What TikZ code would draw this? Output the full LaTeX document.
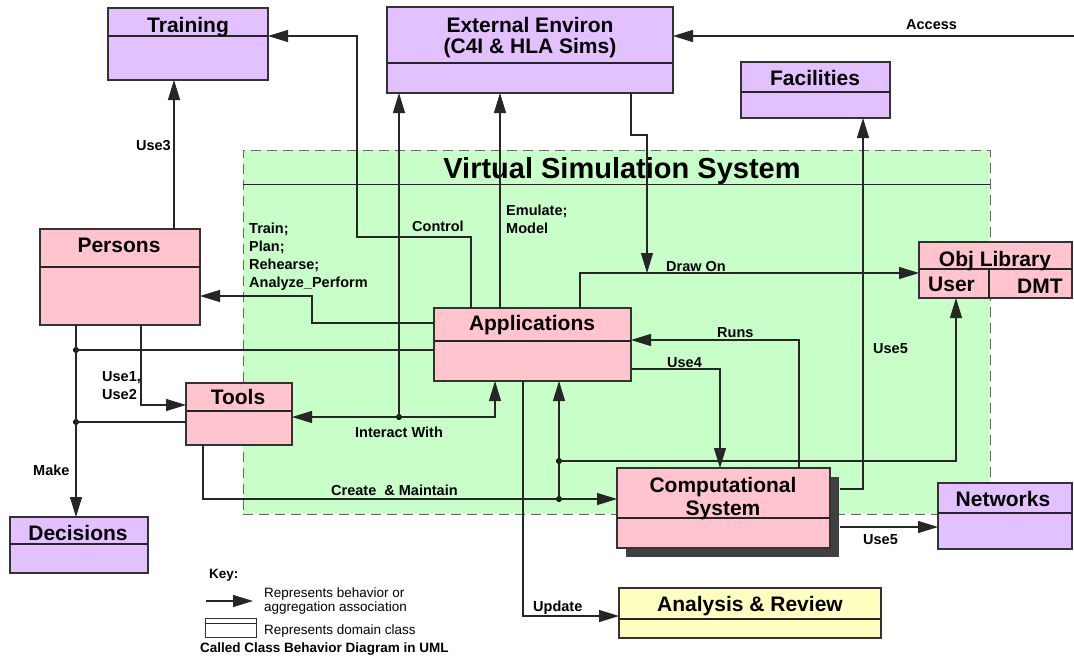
\documentclass[tikz,border=0pt]{standalone}
\usepackage{fontspec}
\setmainfont{Liberation Sans}
\usetikzlibrary{arrows.meta,shadows}

\definecolor{classpurple}{RGB}{227,192,255}
\definecolor{classpink}{RGB}{255,196,206}
\definecolor{vssgreen}{RGB}{200,255,200}
\definecolor{classyellow}{RGB}{255,255,192}
\definecolor{boxline}{RGB}{51,51,51}
\definecolor{shadowgray}{RGB}{64,64,64}

\begin{document}
\begin{tikzpicture}[x=1pt,y=-1pt,
	cls/.style={draw=boxline, line width=1.2pt, inner sep=0pt, outer sep=0pt},
	title/.style={font=\fontsize{21}{21}\selectfont\bfseries, anchor=base, align=center, inner sep=0pt},
	lbl/.style={font=\fontsize{14.5}{18}\selectfont\bfseries, anchor=base west, inner sep=0pt, align=left},
	keytxt/.style={font=\fontsize{13.5}{11.5}\selectfont, anchor=base west, inner sep=0pt, align=left},
	assoc/.style={draw=black!85, line width=1.2pt, -{Triangle[length=20pt,width=12pt]}},
	plain/.style={draw=black!85, line width=1.2pt},
	dot/.style={circle, fill=black, inner sep=0pt, minimum size=6pt}]

\fill[white] (0,0) rectangle (1074,657);
\useasboundingbox (0,0) rectangle (1074,657);

% system boundary
\node[cls, draw=black!60, dash pattern=on 10pt off 6pt, line width=1pt, fill=vssgreen,
	minimum width=747pt, minimum height=364pt] (vss) at (616.5,332) {};
\draw[plain, line width=1pt] ([yshift=-34pt]vss.north west) -- ([yshift=-34pt]vss.north east);
\node[font=\fontsize{29}{32}\selectfont\bfseries, anchor=base, inner sep=0pt] (vsstitle) at (622,178) {Virtual Simulation System};

% domain classes
\node[cls, fill=classpurple, minimum width=160pt, minimum height=72pt] (train) at (188,44) {};
	\draw[plain] ([yshift=-28pt]train.north west) -- ([yshift=-28pt]train.north east);
	\node[title] (traint) at (188,32) {Training};
\node[cls, fill=classpurple, minimum width=286pt, minimum height=86pt] (ext) at (530,50) {};
	\draw[plain] ([yshift=-56pt]ext.north west) -- ([yshift=-56pt]ext.north east);
	\node[title] (extt) at (530,53) {External Environ\\(C4I \& HLA Sims)};
\node[cls, fill=classpurple, minimum width=149pt, minimum height=56pt] (fac) at (815.5,90) {};
	\draw[plain] ([yshift=-30pt]fac.north west) -- ([yshift=-30pt]fac.north east);
	\node[title] (fact) at (815,85) {Facilities};
\node[cls, fill=classpink, minimum width=160pt, minimum height=96pt] (pers) at (120,277) {};
	\draw[plain] ([yshift=-38pt]pers.north west) -- ([yshift=-38pt]pers.north east);
	\node[title] (perst) at (119,252) {Persons};
\node[cls, fill=classpink, minimum width=106pt, minimum height=62pt] (tools) at (239,414) {};
	\draw[plain] ([yshift=-28pt]tools.north west) -- ([yshift=-28pt]tools.north east);
	\node[title] (toolst) at (238,404) {Tools};
\node[cls, fill=classpurple, minimum width=138pt, minimum height=56pt] (dec) at (79,545) {};
	\draw[plain] ([yshift=-27pt]dec.north west) -- ([yshift=-27pt]dec.north east);
	\node[title] (dect) at (78,540) {Decisions};
\node[cls, fill=classpink, minimum width=197pt, minimum height=73pt] (apps) at (532.5,344.5) {};
	\draw[plain] ([yshift=-33pt]apps.north west) -- ([yshift=-33pt]apps.north east);
	\node[title] (appst) at (532,330) {Applications};
\node[cls, fill=classpink, minimum width=153pt, minimum height=56pt] (obj) at (995.5,270) {};
	\draw[plain] ([yshift=-27pt]obj.north west) -- ([yshift=-27pt]obj.north east);
	\draw[plain] ([xshift=70pt,yshift=-27pt]obj.north west) -- ([xshift=70pt]obj.south west);
	\node[title] (objt) at (995,266) {Obj Library};
	\node[title, anchor=base west] (objuser) at (928,291) {User};
	\node[title, anchor=base west] (objdmt) at (1017,293) {DMT};
\node[cls, fill=classpink, minimum width=213pt, minimum height=80pt,
	drop shadow={shadow xshift=9pt, shadow yshift=-9pt, fill=shadowgray, opacity=1}] (comp) at (723.5,508) {};
	\draw[plain] ([yshift=-50pt]comp.north west) -- ([yshift=-50pt]comp.north east);
	\node[title, font=\fontsize{21}{23}\selectfont\bfseries] (compt) at (723,515) {Computational\\System};
\node[cls, fill=classpurple, minimum width=134pt, minimum height=66pt] (net) at (1005,516) {};
	\draw[plain] ([yshift=-30pt]net.north west) -- ([yshift=-30pt]net.north east);
	\node[title] (nett) at (1003,506) {Networks};
\node[cls, fill=classyellow, minimum width=262pt, minimum height=50pt] (ana) at (750,613) {};
	\draw[plain] ([yshift=-31pt]ana.north west) -- ([yshift=-31pt]ana.north east);
	\node[title] (anat) at (750,611) {Analysis \& Review};

% junctions
\coordinate (acc) at (1074,36);
\coordinate (don) at (647,273);
\node[dot] (iw) at (399,417) {};
\node[dot] (mk1) at (76,350) {};
\node[dot] (mk2) at (76,422) {};
\node[dot] (cm1) at (559,499) {};
\node[dot] (cm2) at (559,461) {};

% associations
\draw[assoc] (acc) -- ([yshift=14pt]ext.east);
\draw[assoc] ([xshift=37pt]apps.north west) |- (357,237) |- ([yshift=8pt]train.east);
\draw[assoc] ([xshift=66pt]apps.north west) -- ([xshift=113pt]ext.south west);
\draw[assoc] ([xshift=244pt]ext.south west) |- (647,135) -- (don);
\draw[assoc] ([xshift=146pt]apps.north west) |- ([yshift=-3pt]obj.west);
\draw[assoc] ([yshift=21.5pt]apps.west) -| (312,296) -- ([yshift=-19pt]pers.east);
\draw[assoc] (iw.center) -- ([yshift=-3pt]tools.east);
\draw[assoc] (iw.center) -| ([xshift=61pt]apps.south west);
\draw[assoc] (iw.center) -- ([xshift=12pt]ext.south west);
\draw[assoc] ([xshift=134pt]pers.north west) -- ([xshift=66pt]train.south west);
\draw[assoc] ([xshift=101pt]pers.south west) |- ([yshift=9pt]tools.west);
\draw[assoc] ([xshift=36pt]pers.south west) -- ([xshift=66pt]dec.north west);
\draw[plain] ([yshift=-5.5pt]apps.west) -- (mk1.center);
\draw[plain] ([yshift=-8pt]tools.west) -- (mk2.center);
\draw[assoc] ([xshift=17pt]tools.south west) |- ([yshift=9pt]comp.west);
\draw[plain] (cm1.center) -- (cm2.center);
\draw[assoc] (cm2.center) -- ([xshift=125pt]apps.south west);
\draw[assoc] (cm2.center) -| ([xshift=37pt]obj.south west);
\draw[assoc] ([yshift=-24.5pt]apps.east) -| ([xshift=103pt]comp.north west);
\draw[assoc] ([xshift=182pt]comp.north west) |- ([yshift=4.5pt]apps.east);
\draw[assoc] ([xshift=10pt,yshift=19pt]comp.east) -| ([xshift=122pt]fac.south west);
\draw[assoc] ([xshift=10pt,yshift=-19pt]comp.east) -- ([yshift=-11pt]net.west);
\draw[assoc] ([xshift=89pt]apps.south west) |- ([yshift=-3pt]ana.west);

% association labels
\node[lbl] (laccess) at (906,29) {Access};
\node[lbl, anchor=base east] (luse3) at (171,150) {Use3};
\node[lbl] (lctrl) at (412,231) {Control};
\node[lbl] (lemul) at (506,233) {Emulate;\\Model};
\node[lbl] (ltrain) at (249,287) {Train;\\Plan;\\Rehearse;\\Analyze\_Perform};
\node[lbl] (ldraw) at (666,271) {Draw On};
\node[lbl] (lruns) at (717,337) {Runs};
\node[lbl] (luse4) at (667,367) {Use4};
\node[lbl] (luse5a) at (873,353) {Use5};
\node[lbl] (luse12) at (102,399) {Use1,\\Use2};
\node[lbl] (linter) at (355,437) {Interact With};
\node[lbl] (lcreate) at (331,495) {Create~ \& Maintain};
\node[lbl] (lmake) at (33,475) {Make};
\node[lbl] (luse5b) at (863,544) {Use5};
\node[lbl] (lupd) at (533,611) {Update};

% key
\node[lbl, font=\fontsize{13.5}{16}\selectfont\bfseries] (key) at (209,578) {Key:};
\coordinate (k1) at (206,601);
\coordinate (k2) at (253,601);
\draw[assoc] (k1) -- (k2);
\node[keytxt] (keyassoc) at (264,611) {Represents behavior or\\aggregation association};
\node[cls, line width=1pt, fill=white, minimum width=51pt, minimum height=19pt] (keycls) at (230.5,627.5) {};
\draw[plain, line width=1pt] ([yshift=-5pt]keycls.north west) -- ([yshift=-5pt]keycls.north east);
\node[keytxt] (keyclass) at (264,634) {Represents domain class};
\node[lbl, font=\fontsize{13.5}{16}\selectfont\bfseries] (keyname) at (200,652) {Called Class Behavior Diagram in UML};
\end{tikzpicture}
\end{document}
